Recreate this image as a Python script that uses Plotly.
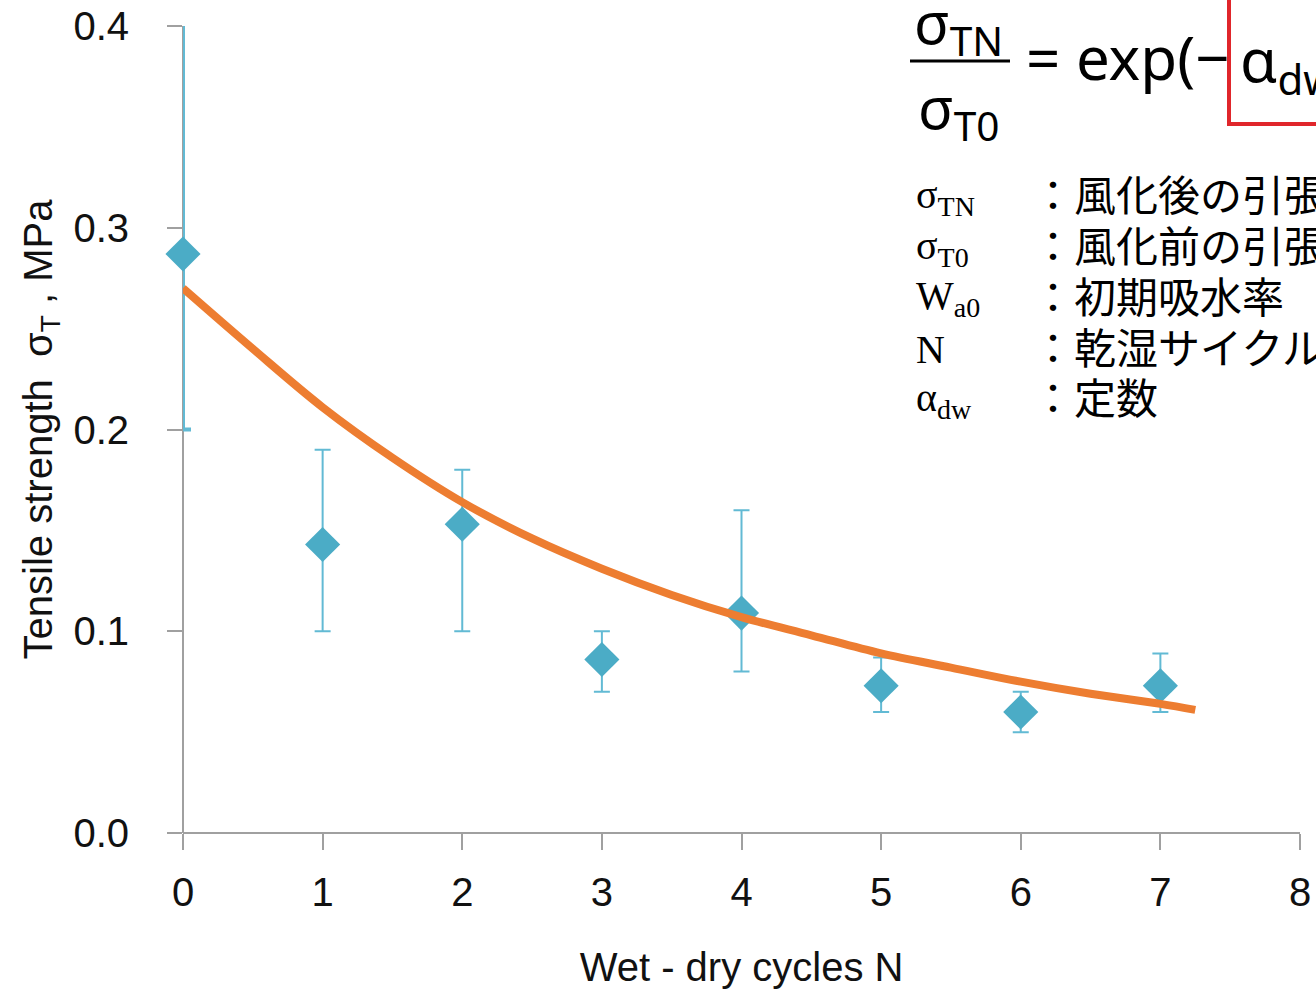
import plotly.graph_objects as go

# ---------------- data ----------------
cycles = [0, 1, 2, 3, 4, 5, 6, 7]
strength = [0.287, 0.143, 0.153, 0.086, 0.109, 0.073, 0.060, 0.073]
err_upper = [0.420, 0.190, 0.180, 0.100, 0.160, 0.087, 0.070, 0.089]
err_lower = [0.200, 0.100, 0.100, 0.070, 0.080, 0.060, 0.050, 0.060]

fit_x = [0, 0.5, 1, 1.5, 2, 2.5, 3, 3.5, 4, 4.5, 5, 5.5, 6, 6.5, 7, 7.25]
fit_y = [0.270, 0.240, 0.211, 0.186, 0.164, 0.146, 0.131, 0.118, 0.107,
         0.098, 0.089, 0.082, 0.075, 0.069, 0.064, 0.061]

x_ticks = [0, 1, 2, 3, 4, 5, 6, 7, 8]
y_ticks = [0.0, 0.1, 0.2, 0.3, 0.4]
y_tick_text = ["0.0", "0.1", "0.2", "0.3", "0.4"]

legend_symbols = ["σ<sub>TN</sub>", "σ<sub>T0</sub>", "W<sub>a0</sub>", "N", "α<sub>dw</sub>"]
legend_texts = ["：風化後の引張強度", "：風化前の引張強度", "：初期吸水率",
                "：乾湿サイクル数", "：定数"]

# ---------------- layout helpers ----------------
W, H = 1316, 989
L, R, T, B = 183, 16, 26, 156
PW, PH = W - L - R, H - T - B


def px(x):
    return (x - L) / PW


def py(y):
    return (H - B - y) / PH


AX_FONT = "Liberation Sans, Arial, sans-serif"
BLUE = "#4BACC6"
ERR = "#62BAD4"
ORANGE = "#ED7D31"
GRAY = "#A0A0A0"

up = [u - s for u, s in zip(err_upper, strength)]
dn = [s - l for l, s in zip(err_lower, strength)]

fig = go.Figure()
# error bars for points 1..7
fig.add_trace(go.Scatter(
    x=cycles[1:], y=strength[1:], mode="markers",
    marker=dict(size=1, color="rgba(0,0,0,0)"),
    error_y=dict(type="data", symmetric=False, array=up[1:], arrayminus=dn[1:],
                 color=ERR, thickness=2, width=8),
    cliponaxis=False, hoverinfo="skip", showlegend=False))
# error bar of point 0 lies on the y axis; drawn thicker so it stays visible
fig.add_trace(go.Scatter(
    x=cycles[:1], y=strength[:1], mode="markers",
    marker=dict(size=1, color="rgba(0,0,0,0)"),
    error_y=dict(type="data", symmetric=False, array=up[:1], arrayminus=dn[:1],
                 color=ERR, thickness=4, width=8),
    cliponaxis=False, hoverinfo="skip", showlegend=False))
fig.add_trace(go.Scatter(
    x=cycles, y=strength, mode="markers",
    marker=dict(symbol="diamond", size=27, color=BLUE, line=dict(width=0)),
    cliponaxis=False, showlegend=False))
fig.add_trace(go.Scatter(
    x=fit_x, y=fit_y, mode="lines",
    line=dict(color=ORANGE, width=8, shape="spline", smoothing=1),
    showlegend=False))

fig.update_layout(
    width=W, height=H,
    margin=dict(l=L, r=R, t=T, b=B, pad=0),
    paper_bgcolor="white", plot_bgcolor="white",
    font=dict(family=AX_FONT, color="#111111", size=40),
    xaxis=dict(range=[0, 8], tickvals=x_ticks, showgrid=False, zeroline=False,
               automargin=False, showline=False,
               ticks="outside", ticklen=16, tickwidth=2, tickcolor=GRAY,
               tickfont=dict(family=AX_FONT, size=40, color="#111111"),
               ticklabelstandoff=8,
               title=dict(text="Wet - dry cycles N",
                          font=dict(family=AX_FONT, size=40, color="#111111"),
                          standoff=40)),
    yaxis=dict(range=[0, 0.4], tickvals=y_ticks, ticktext=y_tick_text,
               showgrid=False, zeroline=False, automargin=False, showline=False,
               ticks="outside", ticklen=15, tickwidth=2, tickcolor=GRAY,
               tickfont=dict(family=AX_FONT, size=40, color="#111111"),
               ticklabelstandoff=30,
               title=dict(text="Tensile strength  σ<sub>T</sub> , MPa",
                          font=dict(family=AX_FONT, size=40, color="#111111"),
                          standoff=8)),
)

anns = []
FORM_FONT = "Noto Sans, Open Sans, sans-serif"
anns.append(dict(text="σ<sub>TN</sub>", x=px(958), y=py(25), xanchor="center", yanchor="middle",
                 font=dict(family=FORM_FONT, size=58, color="black")))
anns.append(dict(text="σ<sub>T0</sub>", x=px(958), y=py(110), xanchor="center", yanchor="middle",
                 font=dict(family=FORM_FONT, size=58, color="black")))
anns.append(dict(text="= exp(−", x=px(1024), y=py(57), xanchor="left", yanchor="middle",
                 font=dict(family=FORM_FONT, size=60, color="black")))
anns.append(dict(text="α<sub>dw</sub>W<sub>a0</sub>N)", x=px(1238), y=py(63), xanchor="left",
                 yanchor="middle", font=dict(family=FORM_FONT, size=60, color="black")))

rows_y = [193, 244, 294, 345, 396]
for sym, txt, yy in zip(legend_symbols, legend_texts, rows_y):
    anns.append(dict(text=sym, x=px(914), y=py(yy + 4), xanchor="left", yanchor="middle",
                     font=dict(family="Liberation Serif, DejaVu Serif, serif", size=40,
                               color="black")))
    anns.append(dict(text=txt, x=px(1030), y=py(yy), xanchor="left", yanchor="middle",
                     font=dict(family="Noto Sans CJK JP, sans-serif", size=42,
                               color="black")))

for a in anns:
    a.update(xref="paper", yref="paper", showarrow=False)
fig.update_layout(annotations=anns)

fig.update_layout(shapes=[
    dict(type="line", xref="paper", yref="paper", x0=0, x1=0, y0=0, y1=1,
         layer="below", line=dict(color=GRAY, width=2)),
    dict(type="line", xref="paper", yref="paper", x0=0, x1=1, y0=0, y1=0,
         layer="below", line=dict(color=GRAY, width=2)),
    dict(type="line", xref="paper", yref="paper", x0=px(910), x1=px(1010),
         y0=py(61), y1=py(61), line=dict(color="black", width=3)),
    dict(type="rect", xref="paper", yref="paper", x0=px(1229), x1=px(1400),
         y0=py(124), y1=py(-20), line=dict(color="#E0262B", width=4),
         fillcolor="rgba(0,0,0,0)"),
])

fig.write_html("out.html", config={"displayModeBar": False},
               post_script="document.body.style.margin='0px';")
